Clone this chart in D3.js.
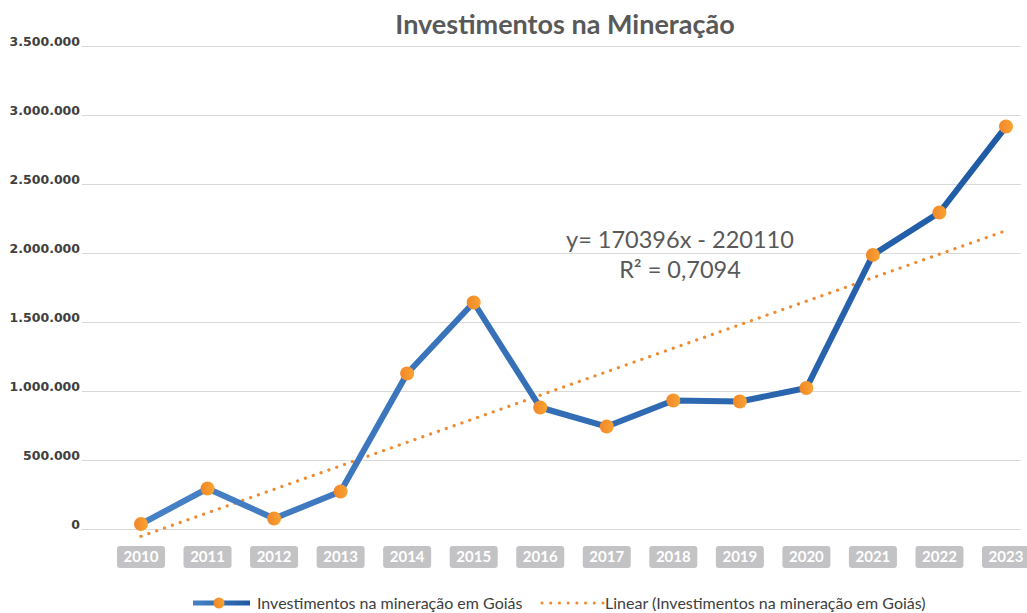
<!DOCTYPE html>
<html>
<head>
    <meta charset="utf-8">
    <title>Investimentos na Mineração</title>
    <script src="https://d3js.org/d3.v7.min.js"></script>
    <style>
        body { margin: 0; background: #fff; }
        text { font-family: Lato, "Open Sans", sans-serif; }
        .grid line { stroke: #d9d9d9; stroke-width: 1px; }
        .y-label { font-family: "DejaVu Sans", sans-serif; font-size: 12.5px; font-weight: bold; fill: #404040; }
        .x-box { fill: #c3c3c6; }
        .x-label { font-size: 15px; font-weight: bold; fill: #fff; }
        .title { font-size: 27px; font-weight: bold; fill: #595959; }
        .eq { font-size: 23.5px; fill: #595959; }
        .legend-text { font-size: 16px; fill: #404040; }
    </style>
</head>
<body>
    <div id="chart"></div>
    <script>
        const width = 1027;
        const height = 613;

        // dados
        const years = ["2010", "2011", "2012", "2013", "2014", "2015", "2016",
                       "2017", "2018", "2019", "2020", "2021", "2022", "2023"];
        const investimentos = [40000, 297000, 80000, 275000, 1130000, 1645000, 884000,
                               746000, 935000, 928000, 1025000, 1990000, 2297000, 2920000];
        const yTicks = [0, 500000, 1000000, 1500000, 2000000, 2500000, 3000000, 3500000];
        const trendSlope = 170396;
        const trendIntercept = -220110;
        const r2 = "0,7094";

        const svg = d3.select("#chart")
            .append("svg")
            .attr("width", width)
            .attr("height", height);

        const defs = svg.append("defs");
        const lineGrad = defs.append("linearGradient")
            .attr("id", "lineGrad")
            .attr("gradientUnits", "userSpaceOnUse")
            .attr("x1", 140).attr("x2", 1006).attr("y1", 0).attr("y2", 0);
        lineGrad.append("stop").attr("offset", "0%").attr("stop-color", "#4781c6");
        lineGrad.append("stop").attr("offset", "100%").attr("stop-color", "#1f5aa5");

        const legGrad = defs.append("linearGradient")
            .attr("id", "legGrad")
            .attr("gradientUnits", "userSpaceOnUse")
            .attr("x1", 193).attr("x2", 250).attr("y1", 0).attr("y2", 0);
        legGrad.append("stop").attr("offset", "0%").attr("stop-color", "#4781c6");
        legGrad.append("stop").attr("offset", "100%").attr("stop-color", "#1f5aa5");

        const dotGrad = defs.append("linearGradient")
            .attr("id", "dotGrad")
            .attr("x1", 0).attr("x2", 1).attr("y1", 0).attr("y2", 0);
        dotGrad.append("stop").attr("offset", "0%").attr("stop-color", "#f0862a");
        dotGrad.append("stop").attr("offset", "100%").attr("stop-color", "#f9a431");

        const x = d3.scalePoint()
            .domain(years)
            .range([141, 1006]);

        const y = d3.scaleLinear()
            .domain([0, 3500000])
            .range([529.5, 46.5]);

        const fmt = d => d3.format(",")(d).replace(/,/g, ".");

        // linhas de grade
        svg.append("g")
            .attr("class", "grid")
            .selectAll("line")
            .data(yTicks)
            .join("line")
            .attr("x1", 82)
            .attr("x2", 1021)
            .attr("y1", d => y(d))
            .attr("y2", d => y(d));

        svg.append("g")
            .selectAll("text")
            .data(yTicks)
            .join("text")
            .attr("class", "y-label")
            .attr("x", 80)
            .attr("y", d => y(d) - 0.5)
            .attr("text-anchor", "end")
            .text(fmt);

        // rótulos do eixo x
        const xg = svg.append("g")
            .selectAll("g")
            .data(years)
            .join("g")
            .attr("transform", d => `translate(${x(d)},557)`);
        xg.append("rect")
            .attr("class", "x-box")
            .attr("x", -24)
            .attr("y", -11)
            .attr("width", 48)
            .attr("height", 22)
            .attr("rx", 3);
        xg.append("text")
            .attr("class", "x-label")
            .attr("text-anchor", "middle")
            .attr("dy", "0.35em")
            .text(d => d);

        // linha de tendência
        const trend = years.map((yr, i) => ({ yr, v: trendSlope * (i + 1) + trendIntercept }));
        svg.append("path")
            .datum(trend)
            .attr("fill", "none")
            .attr("stroke", "#ef8a2e")
            .attr("stroke-width", 3.2)
            .attr("stroke-linecap", "round")
            .attr("stroke-dasharray", "0.1 8.2")
            .attr("d", d3.line().x(d => x(d.yr)).y(d => y(d.v)));

        // série principal
        const series = years.map((yr, i) => ({ yr, v: investimentos[i] }));
        svg.append("path")
            .datum(series)
            .attr("fill", "none")
            .attr("stroke", "url(#lineGrad)")
            .attr("stroke-width", 6)
            .attr("stroke-linejoin", "round")
            .attr("d", d3.line().x(d => x(d.yr)).y(d => y(d.v)));

        svg.append("g")
            .selectAll("circle")
            .data(series)
            .join("circle")
            .attr("cx", d => x(d.yr))
            .attr("cy", d => y(d.v))
            .attr("r", 7)
            .attr("fill", "url(#dotGrad)");

        // título
        svg.append("text")
            .attr("class", "title")
            .attr("x", 565)
            .attr("y", 34)
            .attr("text-anchor", "middle")
            .text("Investimentos na Mineração");

        // equação
        svg.append("text")
            .attr("class", "eq")
            .attr("x", 680)
            .attr("y", 248)
            .attr("text-anchor", "middle")
            .text("y= " + trendSlope + "x - " + Math.abs(trendIntercept));
        svg.append("text")
            .attr("class", "eq")
            .attr("x", 680)
            .attr("y", 278)
            .attr("text-anchor", "middle")
            .text("R² = " + r2);

        // legenda
        const leg = svg.append("g").attr("transform", "translate(0,603)");
        leg.append("line")
            .attr("x1", 193).attr("x2", 250)
            .attr("stroke", "url(#legGrad)")
            .attr("stroke-width", 5);
        leg.append("circle")
            .attr("cx", 219).attr("r", 5.5)
            .attr("fill", "url(#dotGrad)");
        leg.append("text")
            .attr("class", "legend-text")
            .attr("x", 257)
            .attr("dy", "0.35em")
            .text("Investimentos na mineração em Goiás");
        leg.append("line")
            .attr("x1", 542).attr("x2", 603)
            .attr("stroke", "#ef8a2e")
            .attr("stroke-width", 3)
            .attr("stroke-linecap", "round")
            .attr("stroke-dasharray", "0.1 8.6");
        leg.append("text")
            .attr("class", "legend-text")
            .attr("x", 605)
            .attr("dy", "0.35em")
            .text("Linear (Investimentos na mineração em Goiás)");
    </script>
</body>
</html>
